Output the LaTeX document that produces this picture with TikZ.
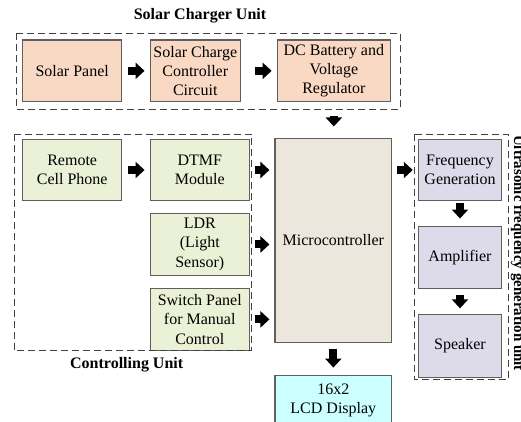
\documentclass[tikz,border=0pt]{standalone}
\usepackage{fontspec}
\setmainfont{Liberation Serif}
\usetikzlibrary{positioning, arrows.meta}
\definecolor{solarfill}{RGB}{250,217,196}
\definecolor{ctrlfill}{RGB}{235,241,214}
\definecolor{mcufill}{RGB}{237,230,221}
\definecolor{usfill}{RGB}{221,219,234}
\definecolor{lcdfill}{RGB}{204,255,255}
\definecolor{edgegray}{RGB}{95,95,95}
\tikzset{
block/.style={draw=edgegray, line width=1.1pt, align=center, inner sep=2pt, font=\fontsize{16}{19.3}\selectfont}, % every box of the diagram
solar/.style={block, fill=solarfill, minimum height=61.7pt}, % boxes of the charger unit
ctrl/.style={block, fill=ctrlfill, minimum width=99.3pt}, % boxes of the controlling unit
usgen/.style={block, fill=usfill, minimum width=83.4pt}, % boxes of the ultrasonic unit
frame/.style={draw=black!75, line width=1pt, dash pattern=on 7pt off 4pt}, % dashed unit borders
unitlabel/.style={font=\bfseries\fontsize{16}{19}\selectfont}, % unit titles
blkarrow/.style={line width=8pt, -{Triangle[length=9pt,width=16pt]}}, % fat black arrows
}
\begin{document}
\begin{tikzpicture}[x=1pt, y=-1pt]
        \useasboundingbox (0,0) rectangle (521,421);
        \clip (0,0) rectangle (521,421);

        % solar charger unit
        \node[solar, minimum width=99pt] (sp) at (72.2,70.85) {Solar Panel};
        \node[solar, minimum width=90.3pt, right=27.3pt of sp] (scc) {Solar Charge\\Controller\\Circuit};
        \node[solar, minimum width=113.3pt, right=35.7pt of scc] (dcb) {DC Battery and\\Voltage\\Regulator};
        \draw[frame] (16,33.3) rectangle (400,109.3);
        \node[unitlabel] (sclbl) at (200,16) {Solar Charger Unit};

        % controlling unit
        \node[ctrl, minimum width=99pt, minimum height=61.4pt] (rcp) at (72.2,170) {Remote\\Cell Phone};
        \node[ctrl, minimum height=61.4pt, right=27.3pt of rcp] (dtmf) {DTMF\\Module};
        \node[ctrl, minimum height=61.3pt, below=12pt of dtmf] (ldr) {LDR\\(Light\\Sensor)};
        \node[ctrl, minimum height=62.3pt, below=12pt of ldr] (swp) {Switch Panel\\for Manual\\Control};
        \draw[frame] (14,134) rectangle (251.7,350.7);
        \node[unitlabel] (culbl) at (126.7,365) {Controlling Unit};

        % microcontroller and display
        \node[block, fill=mcufill, minimum width=116.7pt, minimum height=204.4pt] (mcu) at (333.35,240.5) {Microcontroller};
        \node[block, fill=lcdfill, minimum width=116.7pt, minimum height=50pt, below=31.6pt of mcu] (lcd) {16x2\\LCD Display};

        % ultrasonic frequency generation unit
        \node[usgen, minimum height=61.4pt] (fgen) at (460,170) {Frequency\\Generation};
        \node[usgen, minimum height=62pt, below=24.3pt of fgen] (amp) {Amplifier};
        \node[usgen, minimum height=62.7pt, below=25.3pt of amp] (spk) {Speaker};
        \draw[frame] (414,134) rectangle (508.3,379.3);
        \node[unitlabel, font=\bfseries\fontsize{15}{18}\selectfont, rotate=-90, anchor=base] (uslbl) at (514,253) {Ultrasonic frequency generation unit};

        \draw[blkarrow] (sp) edge[shorten <=5.3pt, shorten >=5pt] (scc)
              (scc) edge[shorten <=14pt, shorten >=5pt] (dcb)
              (dcb) edge[shorten <=13.3pt, shorten >=11.3pt] (dcb |- mcu.north)
              (rcp) edge[shorten <=5.3pt, shorten >=5pt] (dtmf)
              (dtmf) edge[shorten <=4.7pt, shorten >=5pt] (dtmf -| mcu.west)
              (ldr) edge[shorten <=4.7pt, shorten >=5pt] (ldr -| mcu.west)
              (swp) edge[shorten <=4.7pt, shorten >=5pt] (swp -| mcu.west)
              (mcu) edge[shorten <=5.3pt, shorten >=7.3pt] (lcd)
              (fgen) edge[shorten <=1.3pt, shorten >=7pt] (amp)
              (amp) edge[shorten <=6.3pt, shorten >=5.6pt] (spk)
              ;
        \draw[blkarrow, shorten <=5pt, shorten >=5pt] (fgen -| mcu.east) -- (fgen.west);
\end{tikzpicture}
\end{document}
